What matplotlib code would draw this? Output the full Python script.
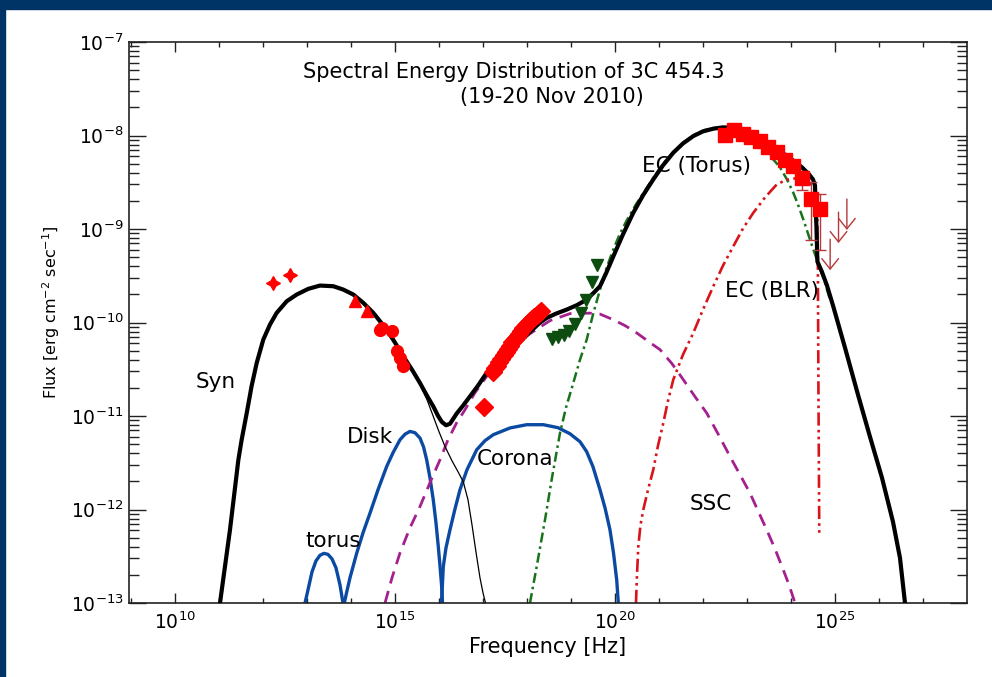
import matplotlib
matplotlib.use("Agg")
import matplotlib.pyplot as plt
import numpy as np
from matplotlib.patches import Rectangle
from matplotlib.ticker import FixedLocator, FuncFormatter, NullFormatter

plt.rcParams['font.family'] = ['DejaVu Sans']
plt.rcParams['mathtext.fontset'] = 'dejavusans'
plt.rcParams['mathtext.default'] = 'regular'

# ---- model curves (log10 nu [Hz], log10 flux [erg cm^-2 s^-1]) ----
total_lognu = [11.023, 11.25, 11.44, 11.515, 11.63, 11.74, 11.857, 12.007, 12.159, 12.311,
               12.539, 12.766, 13.03, 13.295, 13.598, 13.825, 14.052, 14.28, 14.507, 14.811,
               15.0, 15.189, 15.386, 15.568, 15.727, 15.87, 15.977, 16.061, 16.159, 16.25,
               16.40, 16.545, 16.70, 16.886, 17.08, 17.318, 17.614, 17.955, 18.295, 18.448,
               18.66, 18.902, 19.136, 19.357, 19.52, 19.659, 19.795, 19.961, 20.18, 20.415,
               20.636, 20.87, 21.09, 21.325, 21.545, 21.78, 22.0, 22.235, 22.455, 22.69,
               22.955, 23.227, 23.523, 23.795, 24.045, 24.25, 24.41, 24.50, 24.545, 24.58,
               24.60, 24.70, 24.818, 24.96, 25.227, 25.523, 25.795, 26.068, 26.318, 26.477,
               26.591]
total_logf = [-13.0, -12.217, -11.47, -11.255, -10.97, -10.683, -10.433, -10.183, -10.022, -9.897,
              -9.773, -9.701, -9.640, -9.605, -9.612, -9.648, -9.701, -9.790, -9.897, -10.076,
              -10.215, -10.362, -10.504, -10.647, -10.783, -10.897, -10.997, -11.061, -11.099, -11.083,
              -10.975, -10.89, -10.793, -10.676, -10.54, -10.418, -10.30, -10.151, -10.001, -9.951,
              -9.905, -9.862, -9.814, -9.755, -9.68, -9.612, -9.476, -9.294, -9.059, -8.827,
              -8.641, -8.47, -8.32, -8.184, -8.085, -8.006, -7.956, -7.927, -7.913, -7.917,
              -7.945, -7.999, -8.095, -8.181, -8.267, -8.341, -8.416, -8.47, -8.534, -9.005,
              -9.348, -9.455, -9.605, -9.827, -10.269, -10.773, -11.222, -11.661, -12.132, -12.518,
              -13.0]

syn_lognu = [11.023, 11.25, 11.44, 11.515, 11.63, 11.74, 11.857, 12.007, 12.159, 12.311,
             12.539, 12.766, 13.03, 13.295, 13.598, 13.825, 14.052, 14.28, 14.507, 14.811,
             15.0, 15.189, 15.386, 15.568, 15.727, 15.87, 16.0, 16.136, 16.295, 16.432,
             16.552, 16.659, 16.75, 16.84, 16.932, 17.0, 17.057]
syn_logf = [-13.0, -12.217, -11.47, -11.255, -10.97, -10.683, -10.433, -10.183, -10.022, -9.897,
            -9.773, -9.701, -9.640, -9.605, -9.612, -9.648, -9.701, -9.790, -9.897, -10.076,
            -10.215, -10.362, -10.515, -10.665, -10.825, -11.004, -11.168, -11.325, -11.479, -11.596,
            -11.703, -11.896, -12.163, -12.453, -12.731, -12.89, -13.0]

torus_lognu = [12.955, 13.023, 13.114, 13.205, 13.295, 13.386, 13.477, 13.568, 13.659, 13.75, 13.818]
torus_logf = [-13.0, -12.86, -12.667, -12.549, -12.49, -12.469, -12.48, -12.528, -12.624, -12.806, -13.0]

disk_lognu = [13.848, 13.898, 13.977, 14.13, 14.273, 14.432, 14.614, 14.811, 14.955, 15.114,
              15.227, 15.341, 15.455, 15.568, 15.648, 15.72, 15.795, 15.87, 15.932, 15.984,
              16.023, 16.061, 16.08]
disk_logf = [-13.0, -12.893, -12.731, -12.467, -12.25, -12.039, -11.789, -11.54, -11.393, -11.254,
             -11.195, -11.165, -11.179, -11.236, -11.329, -11.468, -11.661, -11.896, -12.143, -12.396,
             -12.603, -12.824, -13.0]

corona_lognu = [16.057, 16.098, 16.159, 16.25, 16.364, 16.477, 16.636, 16.857, 17.045, 17.234,
                17.614, 17.993, 18.37, 18.705, 18.977, 19.205, 19.357, 19.5, 19.659, 19.773,
                19.886, 19.966, 20.039, 20.075]
corona_logf = [-13.0, -12.61, -12.41, -12.217, -11.993, -11.789, -11.575, -11.361, -11.264, -11.20,
               -11.128, -11.093, -11.093, -11.125, -11.19, -11.275, -11.382, -11.543, -11.789, -11.982,
               -12.217, -12.464, -12.753, -13.0]

ssc_lognu = [14.773, 14.932, 15.114, 15.341, 15.568, 15.795, 16.023, 16.205, 16.402, 16.591,
             16.818, 17.084, 17.386, 17.727, 18.068, 18.523, 18.977, 19.432, 19.659, 19.955,
             20.227, 20.493, 20.795, 21.023, 21.295, 21.552, 21.818, 22.084, 22.341, 22.614,
             22.841, 23.068, 23.25, 23.448, 23.636, 23.825, 23.955, 24.091]
ssc_logf = [-13.0, -12.731, -12.464, -12.196, -11.968, -11.714, -11.468, -11.254, -11.072, -10.933,
            -10.751, -10.576, -10.408, -10.247, -10.119, -9.98, -9.905, -9.90, -9.91, -9.969,
            -10.033, -10.111, -10.215, -10.29, -10.44, -10.611, -10.793, -10.968, -11.19, -11.433,
            -11.628, -11.824, -12.014, -12.217, -12.421, -12.646, -12.806, -13.0]

ectorus_lognu = [18.068, 18.227, 18.409, 18.568, 18.75, 18.886, 19.052, 19.205, 19.357, 19.5,
                 19.659, 19.795, 19.961, 20.114, 20.266, 20.477, 20.682, 20.909, 21.136, 21.364,
                 21.591, 21.818, 22.045, 22.273, 22.5, 22.727, 22.955, 23.182, 23.448, 23.636,
                 23.75, 23.909, 24.052, 24.159, 24.28, 24.386, 24.508, 24.614, 24.75, 24.886]
ectorus_logf = [-13.0, -12.593, -12.111, -11.661, -11.182, -10.911, -10.647, -10.397, -10.183, -9.915,
                -9.648, -9.433, -9.219, -9.048, -8.909, -8.737, -8.588, -8.427, -8.277, -8.159,
                -8.063, -7.988, -7.94, -7.919, -7.913, -7.935, -7.977, -8.052, -8.181, -8.277,
                -8.342, -8.47, -8.612, -8.738, -8.898, -9.048, -9.22, -9.36, -9.541, -9.755]

ecblr_lognu = [20.477, 20.5, 20.53, 20.58, 20.643, 20.75, 20.87, 20.977, 21.098, 21.205,
               21.325, 21.545, 21.78, 22.0, 22.235, 22.455, 22.69, 22.909, 23.143, 23.409,
               23.675, 23.886, 24.091, 24.273, 24.409, 24.523, 24.591, 24.61, 24.625, 24.643]
ecblr_logf = [-13.0, -12.70, -12.396, -12.164, -12.003, -11.789, -11.575, -11.318, -11.075, -10.836,
              -10.611, -10.344, -10.111, -9.862, -9.612, -9.391, -9.184, -8.995, -8.827, -8.663,
              -8.524, -8.475, -8.459, -8.47, -8.502, -8.556, -8.641, -9.327, -10.826, -12.292]

# ---- observed data ----
radio_lognu = [12.23, 12.61]
radio_logf = [-9.58, -9.49]

ir_lognu = [14.09, 14.36]
ir_logf = [-9.77, -9.88]

opt_lognu = [14.66, 14.70, 14.925, 15.04, 15.11, 15.175]
opt_logf = [-10.08, -10.06, -10.09, -10.31, -10.375, -10.47]

xray_lognu = [17.02, 17.22, 17.27, 17.32, 17.37, 17.42, 17.47, 17.52, 17.57, 17.62,
              17.67, 17.72, 17.77, 17.82, 17.87, 17.92, 17.97, 18.02, 18.07, 18.12,
              18.17, 18.22, 18.27, 18.32]
xray_logf = [-10.90, -10.53, -10.49, -10.46, -10.42, -10.39, -10.35, -10.32, -10.28, -10.25,
             -10.21, -10.18, -10.15, -10.12, -10.09, -10.06, -10.03, -10.00, -9.98, -9.96,
             -9.94, -9.92, -9.90, -9.88]

hard_lognu = [18.57, 18.70, 18.83, 18.95, 19.08, 19.22, 19.35, 19.48, 19.60]
hard_logf = [-10.18, -10.16, -10.13, -10.09, -10.02, -9.895, -9.755, -9.57, -9.38]

lat_lognu = [22.50, 22.70, 22.91, 23.09, 23.30, 23.48, 23.68, 23.86, 24.05, 24.25, 24.45, 24.66]
lat_logf = [-7.99, -7.945, -7.98, -8.02, -8.06, -8.12, -8.18, -8.26, -8.33, -8.45, -8.675, -8.79]
err_lognu = [24.25, 24.45, 24.66]
err_logf = [-8.45, -8.675, -8.79]
err_lo = [-8.58, -9.12, -9.22]
err_hi = [-8.38, -8.50, -8.63]

ul_lognu = [24.89, 25.08, 25.27]
ul_logf = [-9.08, -8.79, -8.65]

x_major_exp = [10, 15, 20, 25]


def p(a):
    return 10.0 ** np.asarray(a)


fig = plt.figure(figsize=(9.92, 6.77), dpi=100)
fig.add_artist(Rectangle((0, 1 - 9 / 677), 1, 9 / 677, transform=fig.transFigure,
                         color='#003366', zorder=0))
fig.add_artist(Rectangle((0, 0), 5 / 992, 1, transform=fig.transFigure,
                         color='#003366', zorder=0))
ax = fig.add_axes([129 / 992, 74 / 677, 838 / 992, 561 / 677])
ax.set_xscale('log')
ax.set_yscale('log')

blue = '#0b4aa2'
ax.plot(p(torus_lognu), p(torus_logf), color=blue, lw=2.4, zorder=2)
ax.plot(p(disk_lognu), p(disk_logf), color=blue, lw=2.4, zorder=2)
ax.plot(p(corona_lognu), p(corona_logf), color=blue, lw=2.4, zorder=2)
ax.plot(p(ssc_lognu), p(ssc_logf), color='#a5208f', lw=2.0, ls=(0, (4.5, 2.8)), zorder=2)
ax.plot(p(ectorus_lognu), p(ectorus_logf), color='#17731a', lw=1.8,
        ls=(0, (4, 1.6, 1, 1.6)), zorder=2)
ax.plot(p(ecblr_lognu), p(ecblr_logf), color='#d8141a', lw=1.9,
        ls=(0, (5, 1.6, 1, 1.6, 1, 1.6)), zorder=2)
ax.plot(p(syn_lognu), p(syn_logf), color='black', lw=0.9, zorder=3)
ax.plot(p(total_lognu), p(total_logf), color='black', lw=3.0, zorder=3,
        solid_joinstyle='round')

red = '#ff0000'
ax.plot(p(radio_lognu), p(radio_logf), ls='none', marker=(4, 1, 0), ms=10, color=red, zorder=5)
ax.plot(p(ir_lognu), p(ir_logf), ls='none', marker='^', ms=9, color=red, zorder=5)
ax.plot(p(opt_lognu), p(opt_logf), ls='none', marker='o', ms=8.5, color=red, zorder=5)
ax.plot(p(xray_lognu), p(xray_logf), ls='none', marker='D', ms=9, color=red, zorder=5)
ax.plot(p(hard_lognu), p(hard_logf), ls='none', marker='v', ms=9, color='#0e4d10', zorder=5)
ax.plot(p(lat_lognu), p(lat_logf), ls='none', marker='s', ms=10, color=red, zorder=5)
ef = p(err_logf)
ax.errorbar(p(err_lognu), ef, yerr=[ef - p(err_lo), p(err_hi) - ef], fmt='none',
            ecolor='#b5383a', elinewidth=1.0, capsize=4, zorder=4)
for xl, yl in zip(ul_lognu, ul_logf):
    ax.annotate('', xy=(10 ** xl, 10 ** (yl - 0.39)), xytext=(10 ** xl, 10 ** yl),
                arrowprops=dict(arrowstyle='->,head_length=0.75,head_width=0.6',
                                color='#b5383a', lw=1.0), zorder=4)

ax.set_xlim(10 ** 8.955, 1e28)
ax.set_ylim(1e-13, 1e-7)

# ticks only inside the visible range
ax.xaxis.set_major_locator(FixedLocator([10.0 ** e for e in x_major_exp]))
ax.xaxis.set_minor_locator(FixedLocator([10.0 ** e for e in range(9, 28)
                                         if e not in x_major_exp]))
ax.xaxis.set_minor_formatter(NullFormatter())
ax.yaxis.set_major_locator(FixedLocator([10.0 ** e for e in range(-13, -6)]))
ax.yaxis.set_minor_locator(FixedLocator([m * 10.0 ** e for e in range(-13, -7)
                                         for m in range(2, 10)]))
ax.yaxis.set_minor_formatter(NullFormatter())
fmt = FuncFormatter(lambda v, _: '$10^{%d}$' % int(round(np.log10(v))))
ax.xaxis.set_major_formatter(fmt)
ax.yaxis.set_major_formatter(fmt)

ax.tick_params(which='both', direction='in', top=True, right=True, width=1.0,
               color='#222222', labelsize=13.5)
ax.tick_params(axis='x', which='major', length=7.5, pad=6)
ax.tick_params(axis='x', which='minor', length=3.8)
ax.tick_params(axis='y', which='major', length=12, pad=4)
ax.tick_params(axis='y', which='minor', length=7)
for s in ax.spines.values():
    s.set_linewidth(1.2)
    s.set_color('#222222')

ax.set_xlabel('Frequency [Hz]', fontsize=15, labelpad=3)
ax.set_ylabel('Flux [erg cm$^{-2}$ sec$^{-1}$]', fontsize=11.5)
ax.yaxis.set_label_coords(-0.080, 0.519)

lab = dict(fontsize=15.5, va='baseline', ha='left')
ax.text(10 ** 10.477, 10 ** -10.70, 'Syn', **lab)
ax.text(10 ** 13.902, 10 ** -11.286, 'Disk', **lab)
ax.text(10 ** 12.955, 10 ** -12.40, 'torus', **lab)
ax.text(10 ** 16.864, 10 ** -11.52, 'Corona', **lab)
ax.text(10 ** 21.705, 10 ** -12.005, 'SSC', **lab)
ax.text(10 ** 20.607, 10 ** -8.395, 'EC (Torus)', **lab)
ax.text(10 ** 22.50, 10 ** -9.722, 'EC (BLR)', **lab)
ttl = dict(fontsize=15, va='baseline', ha='left')
ax.text(10 ** 12.909, 10 ** -7.383, 'Spectral Energy Distribution of 3C 454.3', **ttl)
ax.text(10 ** 16.477, 10 ** -7.655, '(19-20 Nov 2010)', **ttl)

fig.savefig('out.png', dpi=100)
